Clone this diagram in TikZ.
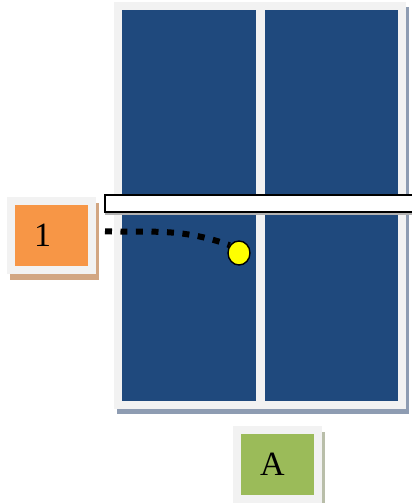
\documentclass[tikz,border=0pt]{standalone}
\usepackage{fontspec}
\setmainfont{Liberation Serif}
\usepackage{xcolor}
\usepackage{tikz}
\usetikzlibrary{positioning, shapes.geometric}
\definecolor{ttBlue}{HTML}{1F497D}
\definecolor{ttFrame}{HTML}{F2F2F2}
\definecolor{ttShade}{HTML}{8E9CB2}
\definecolor{ttOrange}{HTML}{F79646}
\definecolor{ttOrangeShade}{HTML}{D2A682}
\definecolor{ttGreen}{HTML}{9BBB59}
\definecolor{ttGreenShade}{HTML}{B9BEA9}
\definecolor{ttYellow}{HTML}{FFFF00}
\tikzset{
  half/.style={
    rectangle, fill=ttBlue, draw=ttFrame, line width=8pt,
    minimum width=142pt, minimum height=399pt, inner sep=0pt,
    anchor=north west,
    preaction={draw=ttShade, fill=ttShade, transform canvas={shift={(3pt,-5pt)}}}
  },
  card/.style 2 args={
    rectangle, fill=#1, draw=ttFrame, line width=8pt,
    minimum width=81pt, minimum height=69pt, inner sep=0pt,
    text width=35pt, align=left, font=\fontsize{34}{40}\selectfont,
    preaction={draw=#2, fill=#2, transform canvas={shift={(3pt,-6pt)}}}
  },
  net/.style={
    rectangle, fill=white, draw=black, line width=2pt,
    minimum width=320pt, minimum height=17pt, inner sep=0pt,
    anchor=north west,
    preaction={draw=gray!60, transform canvas={shift={(1pt,-2pt)}}}
  },
  ball/.style={
    ellipse, fill=ttYellow, draw=black, line width=1.4pt,
    minimum width=22pt, minimum height=24pt, inner sep=0pt
  },
  trail/.style={
    draw=black, line width=6pt, dash pattern=on 7pt off 8.5pt
  }
}
\begin{document}
\begin{tikzpicture}[x=1pt, y=-1pt]
  \useasboundingbox (0,0) rectangle (412,503);
  \node[half] (left) at (114,2) {};
  \node[half, minimum width=141pt] (right) at (257,2) {};
  \node[net] (net) at (104,194) {};
  \node[card={ttOrange}{ttOrangeShade}] (one) at (51.5,235.5) {1};
  \node[card={ttGreen}{ttGreenShade}] (a) at (277.5,464) {A};
  \node[ball] (ball) at (239,253) {};
  \draw[trail, shorten <=9pt] ([yshift=4.5pt]one.east) to[out=-2, in=160] (ball.140);
\end{tikzpicture}
\end{document}
